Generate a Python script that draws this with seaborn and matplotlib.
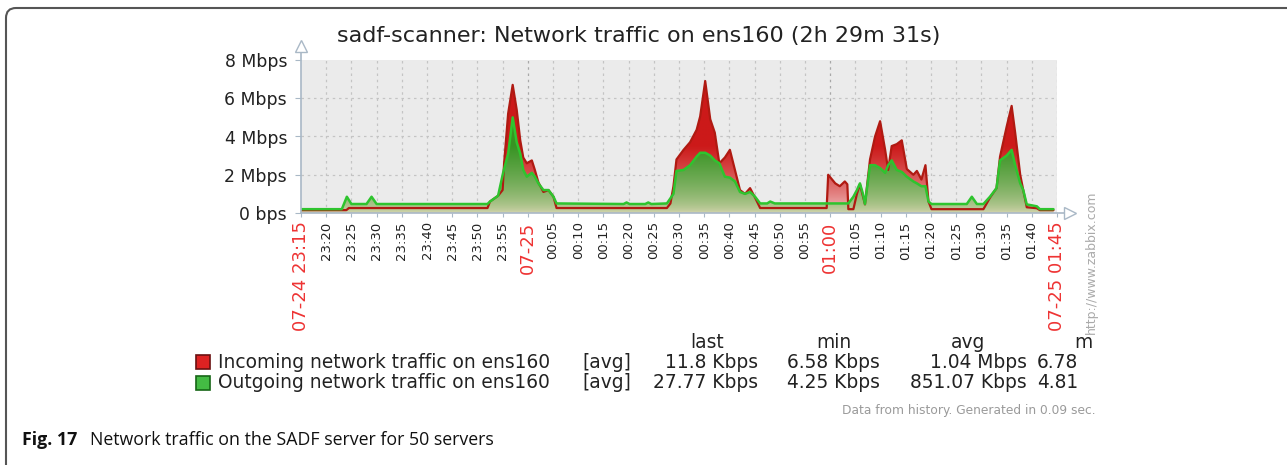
import numpy as np
import matplotlib
matplotlib.use("Agg")
import matplotlib.pyplot as plt
import seaborn as sns
from matplotlib.path import Path
from matplotlib.patches import FancyBboxPatch, Rectangle
from matplotlib.transforms import IdentityTransform

# minutes since 23:15 and traffic in Mbps
in_time = [0, 9.0, 9.5, 37.0, 37.5, 39.1, 40.0, 40.3, 41.1, 42.0, 42.8, 43.5, 44.1, 44.8,
           45.8, 46.4, 47.1, 48.1, 49.1, 50.1, 50.7, 72.6, 73.3, 73.9, 74.5, 75.9, 77.2,
           78.5, 79.2, 80.2, 81.2, 82.1, 83.0, 84.1, 85.1, 86.1, 87.1, 88.1, 89.1, 90.1,
           91.1, 104.3, 104.6, 106.0, 106.9, 107.9, 108.4, 108.6, 109.6, 110.3, 110.9,
           111.9, 112.9, 113.9, 114.9, 115.9, 116.5, 117.2, 118.2, 119.2, 120.2, 121.5,
           122.2, 123.1, 123.9, 124.5, 125.1, 135.4, 136.7, 138.0, 138.7, 140.0, 141.0,
           141.7, 142.7, 143.3, 144.0, 146.0, 146.6, 149.3]
incoming = [0.15, 0.15, 0.26, 0.26, 0.6, 0.9, 1.2, 2.6, 5.2, 6.7, 5.4, 3.8, 2.9, 2.6,
            2.75, 2.25, 1.6, 1.1, 1.2, 0.85, 0.26, 0.26, 0.5, 1.4, 2.8, 3.3, 3.7,
            4.35, 5.05, 6.9, 4.9, 4.2, 2.6, 2.9, 3.3, 2.25, 1.2, 1.0, 1.3, 0.8,
            0.26, 0.26, 2.0, 1.55, 1.4, 1.65, 1.5, 0.2, 0.2, 1.0, 1.5,
            0.45, 2.8, 4.0, 4.8, 3.3, 2.25, 3.5, 3.6, 3.8, 2.3, 2.0,
            2.2, 1.75, 2.5, 0.6, 0.2, 0.2, 0.8, 1.3, 2.95, 4.5, 5.6,
            4.2, 2.0, 1.2, 0.3, 0.25, 0.15, 0.15]

out_time = [0, 8.1, 9.1, 10.0, 13.0, 14.0, 15.0, 37.0, 37.5, 39.1, 40.1, 41.1, 42.0,
            42.8, 43.5, 44.1, 44.8, 45.8, 46.4, 47.1, 48.1, 49.1, 50.1, 50.7, 64.0, 64.6,
            65.2, 68.3, 68.9, 69.5, 72.6, 73.9, 74.5, 75.9, 77.2, 78.5, 79.2, 80.2, 81.2,
            82.1, 83.0, 84.1, 85.1, 86.1, 87.1, 88.1, 89.1, 90.1, 91.1, 92.5, 93.1, 94.0,
            108.6, 109.6, 110.3, 110.9, 111.5, 111.9, 112.9, 113.9, 114.9, 115.9, 116.5,
            117.2, 118.2, 119.2, 120.2, 121.5, 122.2, 123.1, 123.9, 124.5, 125.1, 132.1,
            133.1, 134.1, 135.4, 136.7, 138.0, 138.7, 140.0, 141.0, 141.7, 142.7, 143.3,
            144.0, 146.0, 146.6, 149.3]
outgoing = [0.2, 0.2, 0.85, 0.47, 0.47, 0.85, 0.47, 0.47, 0.6, 0.9, 2.1, 3.1, 5.0,
            3.7, 3.1, 2.25, 1.9, 2.1, 1.9, 1.55, 1.2, 1.2, 0.85, 0.5, 0.47, 0.55,
            0.47, 0.47, 0.55, 0.47, 0.5, 1.0, 2.2, 2.25, 2.5, 2.95, 3.15, 3.15, 3.0,
            2.75, 2.6, 1.9, 1.85, 1.65, 1.1, 1.0, 1.1, 0.85, 0.5, 0.5, 0.6, 0.5,
            0.5, 0.85, 1.2, 1.55, 1.0, 0.47, 2.5, 2.5, 2.35, 2.1, 2.5,
            2.75, 2.25, 2.15, 1.9, 1.65, 1.55, 1.4, 1.4, 0.6, 0.47, 0.47,
            0.85, 0.47, 0.47, 0.85, 1.3, 2.75, 3.0, 3.3, 2.5, 1.55, 1.2,
            0.45, 0.35, 0.2, 0.2]

tick_minutes = list(range(0, 151, 5))
tick_labels = ["07-24 23:15", "23:20", "23:25", "23:30", "23:35", "23:40", "23:45", "23:50",
               "23:55", "07-25", "00:05", "00:10", "00:15", "00:20", "00:25", "00:30",
               "00:35", "00:40", "00:45", "00:50", "00:55", "01:00", "01:05", "01:10",
               "01:15", "01:20", "01:25", "01:30", "01:35", "01:40", "07-25 01:45"]
red_ticks = ["07-24 23:15", "07-25", "01:00", "07-25 01:45"]
y_ticks = [0, 2, 4, 6, 8]
y_labels = ["0 bps", "2 Mbps", "4 Mbps", "6 Mbps", "8 Mbps"]

legend_rows = [
    ("Incoming network traffic on ens160", "11.8 Kbps", "6.58 Kbps", "1.04 Mbps", "6.78"),
    ("Outgoing network traffic on ens160", "27.77 Kbps", "4.25 Kbps", "851.07 Kbps", "4.81"),
]

sns.set_style("white")
plt.rcParams['font.family'] = ['DejaVu Sans']

W, H = 1287, 465
fig = plt.figure(figsize=(W / 100, H / 100), dpi=100)


def fx(px):
    return px / W


def fy(py):
    return 1 - py / H


ax = fig.add_axes([fx(301), fy(213), fx(1057) - fx(301), fy(60) - fy(213)])
ax.set_facecolor("#ebebeb")
ax.set_xlim(0, 150)
ax.set_ylim(0, 8)
for s in ax.spines.values():
    s.set_visible(False)

# grid
for m in tick_minutes[1:]:
    c = "#a8a8a8" if m in (45, 105) else "#c4c4c4"
    ax.axvline(m, color=c, lw=0.9, ls=(0, (2, 3)), zorder=1)
for v in [2, 4, 6]:
    ax.axhline(v, color="#c4c4c4", lw=0.9, ls=(0, (2, 3)), zorder=1)


def gradient_fill(t, v, top, bottom, z):
    verts = [(t[0], 0)] + list(zip(t, v)) + [(t[-1], 0)]
    path = Path(verts)
    yy = np.linspace(0, 8, 300)
    f = np.clip(yy / 3.5, 0, 1) ** 0.6
    top = np.array(top)
    bottom = np.array(bottom)
    cols = bottom[None, :] + (top - bottom)[None, :] * f[:, None]
    img = np.repeat(cols[:, None, :], 2, axis=1)
    im = ax.imshow(img, extent=[0, 150, 0, 8], origin="lower", aspect="auto", zorder=z,
                   interpolation="bilinear")
    im.set_clip_path(path, transform=ax.transData)


gradient_fill(in_time, incoming, (0.80, 0.10, 0.10), (0.97, 0.87, 0.87), 2)
gradient_fill(out_time, outgoing, (0.22, 0.58, 0.14), (0.85, 0.84, 0.70), 4)
sns.lineplot(x=in_time, y=incoming, ax=ax, color="#b01a12", lw=1.6, zorder=5)
sns.lineplot(x=out_time, y=outgoing, ax=ax, color="#2ec42e", lw=1.8, zorder=6)

# axes with arrows
axis_c = "#a9b8c6"
ax.plot([0, 0], [0, 8.75], color=axis_c, lw=1.2, clip_on=False, zorder=7)
ax.plot([0, 152], [0, 0], color=axis_c, lw=1.2, clip_on=False, zorder=7)
ax.plot([0], [8.75], marker="^", ms=8, mfc="white", mec=axis_c, clip_on=False, zorder=8)
ax.plot([152.5], [0], marker=">", ms=8, mfc="white", mec=axis_c, clip_on=False, zorder=8)

ax.set_yticks(y_ticks)
ax.set_yticklabels(y_labels, fontsize=12.4, color="#222222")
ax.tick_params(axis="y", length=4, color=axis_c, pad=6, left=True)
ax.set_xticks(tick_minutes)
ax.set_xticklabels(tick_labels, rotation=90, va="top", ha="center")
ax.tick_params(axis="x", length=3, color=axis_c, pad=3, bottom=True)
for lab in ax.get_xticklabels():
    if lab.get_text() in red_ticks:
        lab.set_color("#ee3333")
        lab.set_fontsize(13)
    else:
        lab.set_color("#222222")
        lab.set_fontsize(9.5)
ax.set_xlabel("")
ax.set_ylabel("")

fig.text(fx(639), fy(36), "sadf-scanner: Network traffic on ens160 (2h 29m 31s)",
         ha="center", va="center", fontsize=16, color="#222222")

# legend table
hdr_y = 342
for txt, xr in [("last", 707), ("min", 834), ("avg", 968), ("m", 1083)]:
    fig.text(fx(xr), fy(hdr_y), txt, ha="center", va="center", fontsize=13.4, color="#222222")
sq_colors = [("#dd2222", "#6a1010"), ("#44bb44", "#176617")]
for i, row in enumerate(legend_rows):
    yy = 362 + i * 21
    fig.add_artist(Rectangle((fx(196), fy(yy + 7)), fx(14), fy(yy - 7) - fy(yy + 7),
                             transform=fig.transFigure, facecolor=sq_colors[i][0],
                             edgecolor=sq_colors[i][1], lw=1.2))
    fig.text(fx(218), fy(yy), row[0], ha="left", va="center", fontsize=13.4, color="#222222")
    fig.text(fx(582), fy(yy), "[avg]", ha="left", va="center", fontsize=13.4, color="#222222")
    for val, xr in zip(row[1:], [758, 880, 1027, 1078]):
        fig.text(fx(xr), fy(yy), val, ha="right", va="center", fontsize=13.4, color="#222222")

fig.text(fx(1096), fy(410), "Data from history. Generated in 0.09 sec.", ha="right",
         va="center", fontsize=8.8, color="#9a9a9a")
fig.text(fx(1091), fy(262), "http://www.zabbix.com", rotation=90, ha="center",
         va="center", fontsize=9, color="#aaaaaa")

# caption and frame
fig.text(fx(22), fy(440), "Fig. 17", ha="left", va="center", fontsize=12.8,
         fontweight="bold", family="Open Sans", color="#111111")
fig.text(fx(90), fy(440), "Network traffic on the SADF server for 50 servers", ha="left",
         va="center", fontsize=12.8, family="Open Sans", color="#111111")
fig.add_artist(FancyBboxPatch((6, -40), 1400, H - 8 + 40, boxstyle="round,pad=0,rounding_size=10",
                              transform=IdentityTransform(), facecolor="none",
                              edgecolor="#555555", lw=1.5))

fig.savefig("out.png", dpi=100)
